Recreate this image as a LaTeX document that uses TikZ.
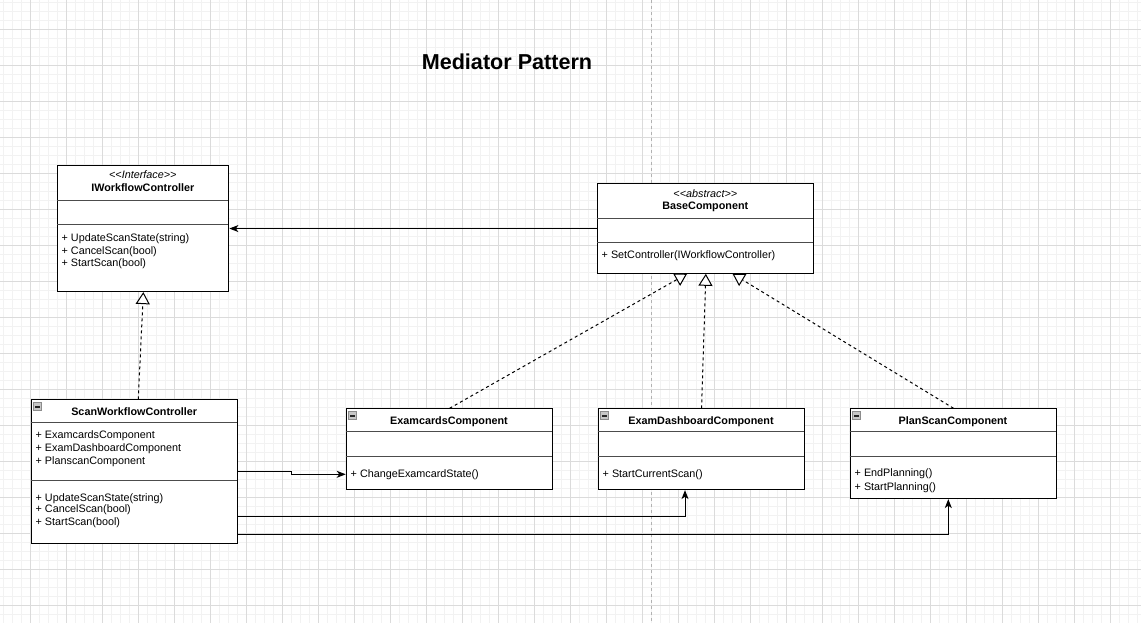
\documentclass[tikz,border=0pt]{standalone}
\usepackage{fontspec}
\setmainfont{Liberation Sans}
\usetikzlibrary{arrows.meta,calc}
\newcommand{\lguil}{<\kern0pt<\kern0pt}
\newcommand{\rguil}{\kern0pt>\kern0pt>}
\begin{document}
\begin{tikzpicture}[x=1pt,y=-1pt,
  minorg/.style={draw=black!5,line width=0.8pt},
  majorg/.style={draw=black!14,line width=0.8pt},
  pageline/.style={draw=black!30,line width=0.8pt,dash pattern=on 3pt off 3pt},
  umlbox/.style={draw=black,line width=1.1pt,fill=white,anchor=north west,inner sep=0pt,rectangle},
  divline/.style={draw=black!70,line width=0.9pt},
  member/.style={anchor=west,inner sep=0pt,font=\fontsize{10.8}{13}\selectfont,text height=8.6pt,text depth=0pt},
  cname/.style={anchor=center,inner sep=0pt,font=\fontsize{10.8}{13}\selectfont\bfseries,text height=8.6pt,text depth=0pt},
  stereo/.style={anchor=center,inner sep=0pt,font=\fontsize{10.8}{13}\selectfont\itshape,text height=8.6pt,text depth=0pt},
  iconbox/.style={fill=black!22,draw=black!45,line width=0.6pt},
  iconbar/.style={draw=black!85,line width=1.6pt},
  inh/.style={draw=black,line width=1pt,dash pattern=on 3pt off 3pt,-{Triangle[fill=white,length=12pt,width=14pt]}},
  assoc/.style={draw=black,line width=1pt,-{Stealth[length=9pt,width=7pt,inset=2.5pt]}},
]
\useasboundingbox (0,0) rectangle (1141,623);
\fill[white] (0,0) rectangle (1141,623);
% grid
\foreach \x in {3,12,...,1140} \draw[minorg] (\x,0) -- (\x,623);
\foreach \y in {2,11,...,622} \draw[minorg] (0,\y) -- (1141,\y);
\foreach \x in {30,66,...,1140} \draw[majorg] (\x,0) -- (\x,623);
\foreach \y in {29,65,...,622} \draw[majorg] (0,\y) -- (1141,\y);
\draw[pageline] (651,0) -- (651,623);

% title
\node[font=\fontsize{21.6}{26}\selectfont\bfseries,inner sep=0pt] (title) at (507,61.5) {Mediator Pattern};

% IWorkflowController
\node[umlbox,minimum width=171pt,minimum height=126pt] (iwc) at (57.3,165) {};
\draw[divline] (57.3,200.3) -- (228.3,200.3);
\draw[divline] (57.3,224.3) -- (228.3,224.3);
\node[stereo] (iwc-st) at (142.8,174) {\lguil Interface\rguil};
\node[cname] (iwc-nm) at (142.8,187) {IWorkflowController};
\node[member] (iwc-m1) at (61.5,236.7) {+ UpdateScanState(string)};
\node[member] (iwc-m2) at (61.5,249.8) {+ CancelScan(bool)};
\node[member] (iwc-m3) at (61.5,262.6) {+ StartScan(bool)};

% BaseComponent
\node[umlbox,minimum width=216pt,minimum height=89.4pt] (base) at (597.3,183.3) {};
\draw[divline] (597.3,218.3) -- (813.3,218.3);
\draw[divline] (597.3,242) -- (813.3,242);
\node[stereo] (base-st) at (705.3,192.7) {\lguil abstract\rguil};
\node[cname] (base-nm) at (705.3,204.7) {BaseComponent};
\node[member] (base-m1) at (601.5,254.3) {+ SetController(IWorkflowController)};

% ScanWorkflowController
\node[umlbox,minimum width=206.6pt,minimum height=144pt] (swc) at (30.7,399.3) {};
\draw[divline] (30.7,422.3) -- (237.3,422.3);
\draw[divline] (30.7,480) -- (237.3,480);
\draw[iconbox] (33.7,402.7) rectangle ++(8,8);
\draw[iconbar] (35.2,406.7) -- (40.2,406.7);
\node[cname] (swc-nm) at (134.2,411) {ScanWorkflowController};
\node[member] (swc-a1) at (35.5,434) {+ ExamcardsComponent};
\node[member] (swc-a2) at (35.5,447.3) {+ ExamDashboardComponent};
\node[member] (swc-a3) at (35.5,460.3) {+ PlanscanComponent};
\node[member] (swc-m1) at (35.5,496.7) {+ UpdateScanState(string)};
\node[member] (swc-m2) at (35.5,508.5) {+ CancelScan(bool)};
\node[member] (swc-m3) at (35.5,521) {+ StartScan(bool)};

% ExamcardsComponent
\node[umlbox,minimum width=206.6pt,minimum height=80.7pt] (exam) at (345.7,408.3) {};
\draw[divline] (345.7,431) -- (552.3,431);
\draw[divline] (345.7,456.7) -- (552.3,456.7);
\draw[iconbox] (348.7,411.7) rectangle ++(8,8);
\draw[iconbar] (350.2,415.7) -- (355.2,415.7);
\node[cname] (exam-nm) at (449,420) {ExamcardsComponent};
\node[member] (exam-m1) at (350.5,472.7) {+ ChangeExamcardState()};

% ExamDashboardComponent
\node[umlbox,minimum width=206.6pt,minimum height=80.7pt] (dash) at (597.7,408.3) {};
\draw[divline] (597.7,431) -- (804.3,431);
\draw[divline] (597.7,456.7) -- (804.3,456.7);
\draw[iconbox] (600.7,411.7) rectangle ++(8,8);
\draw[iconbar] (602.2,415.7) -- (607.2,415.7);
\node[cname] (dash-nm) at (701,420) {ExamDashboardComponent};
\node[member] (dash-m1) at (602.5,472.7) {+ StartCurrentScan()};

% PlanScanComponent
\node[umlbox,minimum width=206.6pt,minimum height=89.7pt] (plan) at (849.7,408.3) {};
\draw[divline] (849.7,431) -- (1056.3,431);
\draw[divline] (849.7,456.7) -- (1056.3,456.7);
\draw[iconbox] (852.7,411.7) rectangle ++(8,8);
\draw[iconbar] (854.2,415.7) -- (859.2,415.7);
\node[cname] (plan-nm) at (953,420) {PlanScanComponent};
\node[member] (plan-m1) at (854.5,472.3) {+ EndPlanning()};
\node[member] (plan-m2) at (854.5,485.7) {+ StartPlanning()};

% associations
\draw[assoc] (base.west |- iwc.east) -- (iwc.east);
\coordinate (j1) at (291.7,474.3);
\draw[assoc] (swc.east) -- (swc.east -| j1) -- (j1) -- (exam.west |- j1);
\coordinate (k2) at (685,516);
\draw[assoc] (swc.east |- k2) -| (dash.south -| k2);
\coordinate (k3) at (948.3,534);
\draw[assoc] (swc.east |- k3) -| (plan.south -| k3);

% generalizations / realizations
\draw[inh] ([xshift=3.7pt]swc.north) -- (iwc.south);
\draw[inh] (exam.north) -- ([xshift=-18.8pt]base.south);
\draw[inh] (dash.north) -- (base.south);
\draw[inh] (plan.north) -- ([xshift=26.7pt]base.south);
\end{tikzpicture}
\end{document}
